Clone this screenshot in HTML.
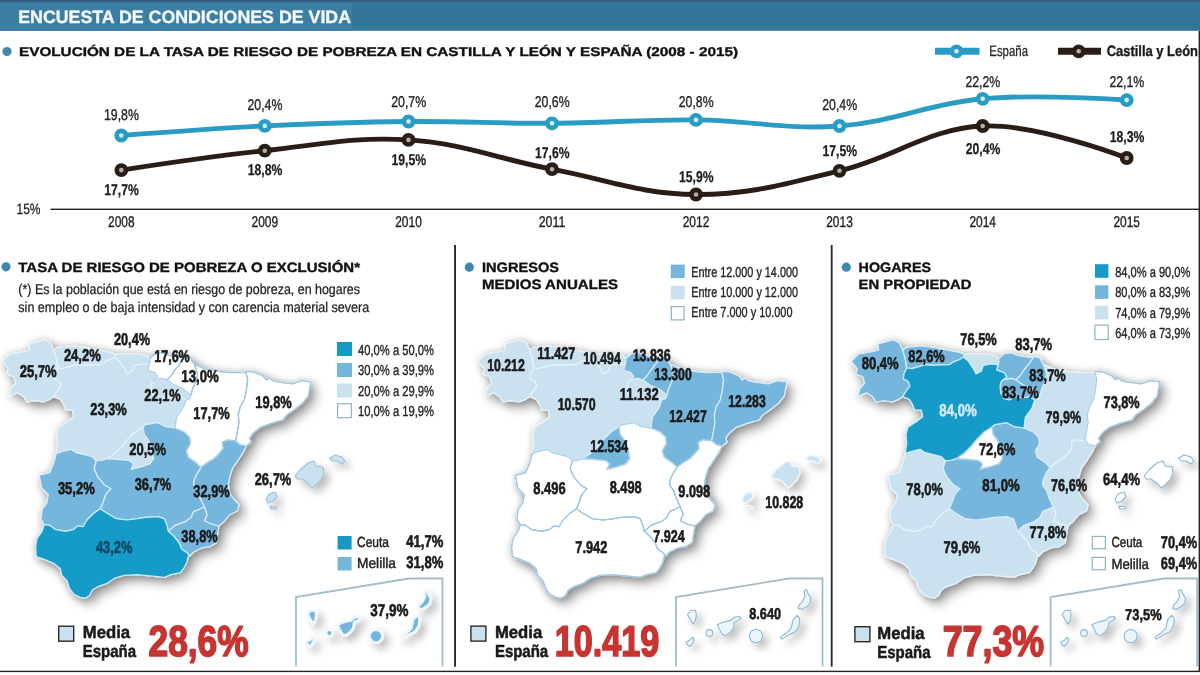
<!DOCTYPE html>
<html lang="es"><head><meta charset="utf-8"><title>Encuesta de condiciones de vida</title>
<style>
html,body{margin:0;padding:0;background:#fff;}
body{width:1200px;height:675px;overflow:hidden;}
svg{display:block;font-family:"Liberation Sans",sans-serif;}
text{text-rendering:geometricPrecision;}
svg{opacity:0.999;}
</style></head><body>
<svg width="1200" height="675" viewBox="0 0 1200 675">
<defs>
<filter id="sh" x="-10%" y="-10%" width="130%" height="130%">
<feGaussianBlur in="SourceAlpha" stdDeviation="5.5" result="b1"/>
<feOffset in="b1" dx="5.5" dy="6" result="o1"/>
<feComponentTransfer in="o1" result="s1"><feFuncA type="linear" slope="0.31"/></feComponentTransfer>
<feGaussianBlur in="SourceAlpha" stdDeviation="4" result="b2"/>
<feOffset in="b2" dx="0.5" dy="0.5" result="o2"/>
<feComponentTransfer in="o2" result="s2"><feFuncA type="linear" slope="0.3"/></feComponentTransfer>
<feMerge><feMergeNode in="s1"/><feMergeNode in="s2"/><feMergeNode in="SourceGraphic"/></feMerge>
</filter>
<filter id="shs" x="-60%" y="-60%" width="260%" height="260%">
<feGaussianBlur in="SourceAlpha" stdDeviation="4.5" result="b1"/>
<feOffset in="b1" dx="4.5" dy="5" result="o1"/>
<feComponentTransfer in="o1" result="s1"><feFuncA type="linear" slope="0.27"/></feComponentTransfer>
<feMerge><feMergeNode in="s1"/><feMergeNode in="SourceGraphic"/></feMerge>
</filter>
</defs>
<rect width="1200" height="675" fill="#fff"/>

<rect x="0" y="0" width="1200" height="30.8" fill="#34769a"/>
<rect x="0" y="3" width="352" height="27.8" fill="#3d7ea3"/>
<rect x="0" y="0" width="1200" height="1.6" fill="#355b78"/>
<text x="18.2" y="23.2" font-size="17.8" font-weight="bold" fill="#f4fbff" stroke="#f4fbff" stroke-width="0.35" stroke-linejoin="round" textLength="332.8" lengthAdjust="spacingAndGlyphs">ENCUESTA DE CONDICIONES DE VIDA</text>
<circle cx="7.0" cy="51.5" r="4.6" fill="#3f88ad"/>
<text x="19.0" y="56.0" font-size="12.6" font-weight="bold" fill="#111" stroke="#111" stroke-width="0.35" stroke-linejoin="round" textLength="719.0" lengthAdjust="spacingAndGlyphs">EVOLUCIÓN DE LA TASA DE RIESGO DE POBREZA EN CASTILLA Y LEÓN Y ESPAÑA (2008 - 2015)</text>
<rect x="50.5" y="208.6" width="1149.5" height="1.4" fill="#222"/>
<text x="16.5" y="214.0" font-size="15.0" font-weight="normal" fill="#222" stroke="#222" stroke-width="0.25" stroke-linejoin="round" textLength="24.0" lengthAdjust="spacingAndGlyphs">15%</text>
<path d="M121.3 170.1 C121.3 170.1 210.3 156.4 264.8 150.7 C319.4 145.0 353.9 136.4 408.5 139.9 C463.0 143.4 497.5 158.8 552.0 169.2 C606.7 179.6 641.3 194.2 696.0 194.5 C750.5 194.8 785.0 183.8 839.5 170.8 C893.9 157.8 928.3 128.4 982.7 126.0 C1037.4 123.6 1126.7 158.0 1126.7 158.0" fill="none" stroke="#2a1c17" stroke-width="4.9"/>
<path d="M121.3 135.5 C121.3 135.5 210.3 128.6 264.8 125.9 C319.4 123.2 353.9 122.0 408.5 121.5 C463.0 121.0 497.5 123.6 552.0 123.3 C606.7 123.0 641.3 119.4 696.0 119.9 C750.5 120.4 785.0 130.0 839.5 126.0 C893.9 122.0 928.3 103.7 982.7 98.8 C1037.4 93.9 1126.7 100.1 1126.7 100.1" fill="none" stroke="#2a9cc3" stroke-width="4.9"/>
<circle cx="121.3" cy="170.1" r="4.6" fill="#b8afaa" stroke="#2a1c17" stroke-width="4.6"/>
<circle cx="264.8" cy="150.7" r="4.6" fill="#b8afaa" stroke="#2a1c17" stroke-width="4.6"/>
<circle cx="408.5" cy="139.9" r="4.6" fill="#b8afaa" stroke="#2a1c17" stroke-width="4.6"/>
<circle cx="552.0" cy="169.2" r="4.6" fill="#b8afaa" stroke="#2a1c17" stroke-width="4.6"/>
<circle cx="696.0" cy="194.5" r="4.6" fill="#b8afaa" stroke="#2a1c17" stroke-width="4.6"/>
<circle cx="839.5" cy="170.8" r="4.6" fill="#b8afaa" stroke="#2a1c17" stroke-width="4.6"/>
<circle cx="982.7" cy="126.0" r="4.6" fill="#b8afaa" stroke="#2a1c17" stroke-width="4.6"/>
<circle cx="1126.7" cy="158.0" r="4.6" fill="#b8afaa" stroke="#2a1c17" stroke-width="4.6"/>
<circle cx="121.3" cy="135.5" r="4.6" fill="#d2f0fb" stroke="#2a9cc3" stroke-width="4.6"/>
<circle cx="264.8" cy="125.9" r="4.6" fill="#d2f0fb" stroke="#2a9cc3" stroke-width="4.6"/>
<circle cx="408.5" cy="121.5" r="4.6" fill="#d2f0fb" stroke="#2a9cc3" stroke-width="4.6"/>
<circle cx="552.0" cy="123.3" r="4.6" fill="#d2f0fb" stroke="#2a9cc3" stroke-width="4.6"/>
<circle cx="696.0" cy="119.9" r="4.6" fill="#d2f0fb" stroke="#2a9cc3" stroke-width="4.6"/>
<circle cx="839.5" cy="126.0" r="4.6" fill="#d2f0fb" stroke="#2a9cc3" stroke-width="4.6"/>
<circle cx="982.7" cy="98.8" r="4.6" fill="#d2f0fb" stroke="#2a9cc3" stroke-width="4.6"/>
<circle cx="1126.7" cy="100.1" r="4.6" fill="#d2f0fb" stroke="#2a9cc3" stroke-width="4.6"/>
<text x="108.0" y="226.8" font-size="15.4" font-weight="normal" fill="#222" stroke="#222" stroke-width="0.35" stroke-linejoin="round" textLength="26.6" lengthAdjust="spacingAndGlyphs">2008</text>
<text x="251.5" y="226.8" font-size="15.4" font-weight="normal" fill="#222" stroke="#222" stroke-width="0.35" stroke-linejoin="round" textLength="26.6" lengthAdjust="spacingAndGlyphs">2009</text>
<text x="395.2" y="226.8" font-size="15.4" font-weight="normal" fill="#222" stroke="#222" stroke-width="0.35" stroke-linejoin="round" textLength="26.6" lengthAdjust="spacingAndGlyphs">2010</text>
<text x="538.7" y="226.8" font-size="15.4" font-weight="normal" fill="#222" stroke="#222" stroke-width="0.35" stroke-linejoin="round" textLength="26.6" lengthAdjust="spacingAndGlyphs">2011</text>
<text x="682.7" y="226.8" font-size="15.4" font-weight="normal" fill="#222" stroke="#222" stroke-width="0.35" stroke-linejoin="round" textLength="26.6" lengthAdjust="spacingAndGlyphs">2012</text>
<text x="826.2" y="226.8" font-size="15.4" font-weight="normal" fill="#222" stroke="#222" stroke-width="0.35" stroke-linejoin="round" textLength="26.6" lengthAdjust="spacingAndGlyphs">2013</text>
<text x="969.4" y="226.8" font-size="15.4" font-weight="normal" fill="#222" stroke="#222" stroke-width="0.35" stroke-linejoin="round" textLength="26.6" lengthAdjust="spacingAndGlyphs">2014</text>
<text x="1113.4" y="226.8" font-size="15.4" font-weight="normal" fill="#222" stroke="#222" stroke-width="0.35" stroke-linejoin="round" textLength="26.6" lengthAdjust="spacingAndGlyphs">2015</text>
<text x="104.0" y="120.0" font-size="15.6" font-weight="normal" fill="#222" stroke="#222" stroke-width="0.35" stroke-linejoin="round" textLength="34.9" lengthAdjust="spacingAndGlyphs">19,8%</text>
<text x="247.5" y="110.3" font-size="15.6" font-weight="normal" fill="#222" stroke="#222" stroke-width="0.35" stroke-linejoin="round" textLength="34.9" lengthAdjust="spacingAndGlyphs">20,4%</text>
<text x="391.2" y="107.3" font-size="15.6" font-weight="normal" fill="#222" stroke="#222" stroke-width="0.35" stroke-linejoin="round" textLength="34.9" lengthAdjust="spacingAndGlyphs">20,7%</text>
<text x="534.7" y="107.3" font-size="15.6" font-weight="normal" fill="#222" stroke="#222" stroke-width="0.35" stroke-linejoin="round" textLength="34.9" lengthAdjust="spacingAndGlyphs">20,6%</text>
<text x="678.7" y="106.8" font-size="15.6" font-weight="normal" fill="#222" stroke="#222" stroke-width="0.35" stroke-linejoin="round" textLength="34.9" lengthAdjust="spacingAndGlyphs">20,8%</text>
<text x="822.2" y="109.5" font-size="15.6" font-weight="normal" fill="#222" stroke="#222" stroke-width="0.35" stroke-linejoin="round" textLength="34.9" lengthAdjust="spacingAndGlyphs">20,4%</text>
<text x="965.4" y="86.5" font-size="15.6" font-weight="normal" fill="#222" stroke="#222" stroke-width="0.35" stroke-linejoin="round" textLength="34.9" lengthAdjust="spacingAndGlyphs">22,2%</text>
<text x="1109.4" y="86.5" font-size="15.6" font-weight="normal" fill="#222" stroke="#222" stroke-width="0.35" stroke-linejoin="round" textLength="34.9" lengthAdjust="spacingAndGlyphs">22,1%</text>
<text x="104.3" y="194.7" font-size="15.6" font-weight="bold" fill="#1a1a1a" stroke="#1a1a1a" stroke-width="0.25" stroke-linejoin="round" textLength="34.6" lengthAdjust="spacingAndGlyphs">17,7%</text>
<text x="247.8" y="174.5" font-size="15.6" font-weight="bold" fill="#1a1a1a" stroke="#1a1a1a" stroke-width="0.25" stroke-linejoin="round" textLength="34.6" lengthAdjust="spacingAndGlyphs">18,8%</text>
<text x="391.5" y="165.2" font-size="15.6" font-weight="bold" fill="#1a1a1a" stroke="#1a1a1a" stroke-width="0.25" stroke-linejoin="round" textLength="34.6" lengthAdjust="spacingAndGlyphs">19,5%</text>
<text x="535.0" y="158.0" font-size="15.6" font-weight="bold" fill="#1a1a1a" stroke="#1a1a1a" stroke-width="0.25" stroke-linejoin="round" textLength="34.6" lengthAdjust="spacingAndGlyphs">17,6%</text>
<text x="679.0" y="182.0" font-size="15.6" font-weight="bold" fill="#1a1a1a" stroke="#1a1a1a" stroke-width="0.25" stroke-linejoin="round" textLength="34.6" lengthAdjust="spacingAndGlyphs">15,9%</text>
<text x="822.5" y="155.9" font-size="15.6" font-weight="bold" fill="#1a1a1a" stroke="#1a1a1a" stroke-width="0.25" stroke-linejoin="round" textLength="34.6" lengthAdjust="spacingAndGlyphs">17,5%</text>
<text x="965.7" y="154.0" font-size="15.6" font-weight="bold" fill="#1a1a1a" stroke="#1a1a1a" stroke-width="0.25" stroke-linejoin="round" textLength="34.6" lengthAdjust="spacingAndGlyphs">20,4%</text>
<text x="1109.7" y="142.0" font-size="15.6" font-weight="bold" fill="#1a1a1a" stroke="#1a1a1a" stroke-width="0.25" stroke-linejoin="round" textLength="34.6" lengthAdjust="spacingAndGlyphs">18,3%</text>
<path d="M935 51.3H979.5" stroke="#2a9cc3" stroke-width="7"/>
<circle cx="956.5" cy="51.3" r="4.6" fill="#d2f0fb" stroke="#2a9cc3" stroke-width="4.6"/>
<text x="989.3" y="56.0" font-size="15.0" font-weight="normal" fill="#222" stroke="#222" stroke-width="0.25" stroke-linejoin="round" textLength="38.7" lengthAdjust="spacingAndGlyphs">España</text>
<path d="M1058 51.3H1101" stroke="#2a1c17" stroke-width="7"/>
<circle cx="1078.7" cy="51.3" r="4.6" fill="#b8afaa" stroke="#2a1c17" stroke-width="4.6"/>
<text x="1106.7" y="56.0" font-size="15.0" font-weight="bold" fill="#1a1a1a" stroke="#1a1a1a" stroke-width="0.35" stroke-linejoin="round" textLength="91.3" lengthAdjust="spacingAndGlyphs">Castilla y León</text>
<rect x="454.1" y="245" width="1.9" height="421.7" fill="#262626"/>
<rect x="830.8" y="245" width="1.8" height="421.7" fill="#262626"/>
<rect x="0" y="670.7" width="1200" height="1.4" fill="#262626"/>
<rect x="1198.6" y="31" width="1.4" height="640" fill="#262626"/>
<g transform="translate(0,0)">
<g filter="url(#sh)" stroke-linejoin="round">
<path d="M149.7 358.7 L155.0 354.0 L161.7 352.7 L171.0 356.0 L180.3 357.3 L185.0 356.7 L180.3 363.3 L175.0 370.0 L171.0 376.0 L167.0 380.0 L162.3 378.3 L156.3 379.3 L152.3 381.3 L157.7 376.7 L155.0 372.7 L147.7 370.0 L149.0 364.9 L149.9 362.0 L149.7 358.7Z" fill="#ffffff" stroke="#a9cfe6" stroke-width="1.25"/>
<path d="M185.0 356.7 L191.0 358.0 L192.6 362.0 L194.3 364.4 L197.7 374.0 L196.3 380.7 L192.6 388.7 L191.0 395.3 L183.0 388.7 L173.7 384.7 L167.0 380.0 L171.0 376.0 L175.0 370.0 L180.3 363.3 L185.0 356.7Z" fill="#ffffff" stroke="#a9cfe6" stroke-width="1.25"/>
<path d="M194.3 364.4 L204.3 368.7 L217.7 371.3 L231.0 372.7 L245.0 372.4 L245.7 371.3 L247.7 380.0 L246.3 390.7 L244.3 400.0 L240.3 406.7 L238.3 414.7 L239.0 422.7 L237.7 430.0 L235.7 440.7 L227.0 440.0 L222.3 442.0 L223.0 448.7 L219.0 453.3 L213.7 458.7 L207.0 462.7 L201.0 467.3 L196.3 462.7 L188.3 457.3 L186.3 450.7 L190.3 444.0 L189.7 437.3 L184.3 432.0 L175.0 428.0 L176.3 417.3 L183.0 408.0 L185.7 400.0 L189.7 398.7 L191.0 395.3 L192.6 388.7 L196.3 380.7 L197.7 374.0 L194.3 364.4Z" fill="#ffffff" stroke="#a9cfe6" stroke-width="1.25"/>
<path d="M245.7 371.3 L253.7 372.0 L263.0 376.0 L266.3 380.0 L269.7 378.0 L272.3 380.7 L277.7 382.0 L292.3 384.0 L301.7 380.7 L311.0 382.0 L309.7 388.0 L308.3 396.0 L303.0 402.7 L295.0 409.3 L287.0 414.7 L283.0 420.0 L271.0 423.3 L260.3 427.3 L253.7 432.7 L249.7 438.0 L251.0 442.0 L246.3 446.0 L240.3 444.7 L235.7 440.7 L237.7 430.0 L239.0 422.7 L238.3 414.7 L240.3 406.7 L244.3 400.0 L246.3 390.7 L247.7 380.0 L245.7 371.3Z" fill="#ffffff" stroke="#a9cfe6" stroke-width="1.25"/>
<path d="M9.0 396.0 L11.0 388.7 L15.7 383.3 L13.7 376.7 L7.0 374.0 L8.3 368.7 L2.3 361.3 L9.7 354.0 L22.3 352.0 L29.7 350.0 L29.0 344.0 L36.3 342.0 L44.3 340.0 L50.3 342.7 L53.7 350.0 L56.3 358.7 L57.7 368.0 L55.0 374.0 L54.3 378.7 L59.0 381.3 L61.0 386.0 L57.0 391.3 L53.7 396.7 L49.7 399.3 L43.0 402.0 L35.0 400.7 L27.0 402.0 L23.7 396.7 L17.7 392.7 L9.0 396.0Z" fill="#cae1f0" stroke="#e7f3fa" stroke-width="1.25"/>
<path d="M53.7 350.0 L57.7 347.3 L71.0 346.0 L84.3 347.3 L97.7 350.0 L111.0 352.7 L115.7 354.3 L114.3 357.3 L109.7 360.0 L105.7 361.3 L100.3 364.7 L92.3 364.9 L84.3 365.3 L76.3 364.7 L69.7 366.7 L63.0 368.7 L57.7 368.0 L56.3 358.7 L53.7 350.0Z" fill="#cae1f0" stroke="#e7f3fa" stroke-width="1.25"/>
<path d="M115.7 354.3 L124.3 353.7 L137.7 354.0 L147.0 356.0 L149.7 358.7 L149.9 362.0 L149.0 364.9 L143.0 364.0 L134.3 365.3 L132.3 371.3 L127.0 374.0 L124.3 368.7 L119.0 360.7 L114.3 357.3 L115.7 354.3Z" fill="#cae1f0" stroke="#e7f3fa" stroke-width="1.25"/>
<path d="M152.3 381.3 L156.3 379.3 L162.3 378.3 L167.0 380.0 L173.7 384.7 L183.0 388.7 L191.0 395.3 L189.7 398.7 L185.7 400.0 L180.3 396.7 L173.7 398.0 L167.0 396.7 L160.3 400.0 L155.0 398.7 L151.7 392.7 L151.0 386.0 L152.3 381.3Z" fill="#cae1f0" stroke="#e7f3fa" stroke-width="1.25"/>
<path d="M143.0 426.7 L135.0 432.0 L128.3 438.7 L121.7 446.7 L115.0 453.3 L107.0 458.7 L117.7 459.3 L129.7 460.7 L133.7 464.0 L131.0 469.3 L141.7 466.7 L149.7 464.0 L153.7 458.7 L152.3 450.7 L148.3 440.0 L144.3 434.7 L143.0 426.7Z" fill="#cae1f0" stroke="#e7f3fa" stroke-width="1.25"/>
<path d="M57.7 368.0 L63.0 368.7 L69.7 366.7 L76.3 364.7 L84.3 365.3 L92.3 364.9 L100.3 364.7 L105.7 361.3 L109.7 360.0 L114.3 357.3 L119.0 360.7 L124.3 368.7 L127.0 374.0 L132.3 371.3 L134.3 365.3 L143.0 364.0 L149.0 364.9 L147.7 370.0 L155.0 372.7 L157.7 376.7 L152.3 381.3 L151.0 386.0 L151.7 392.7 L155.0 398.7 L160.3 400.0 L167.0 396.7 L173.7 398.0 L180.3 396.7 L185.7 400.0 L183.0 408.0 L176.3 417.3 L175.0 428.0 L165.7 426.7 L157.7 422.7 L145.7 424.7 L143.0 426.7 L135.0 432.0 L128.3 438.7 L121.7 446.7 L115.0 453.3 L107.0 458.7 L101.7 460.3 L96.3 460.7 L92.3 456.7 L84.3 454.7 L76.3 452.7 L71.0 449.3 L63.0 451.3 L56.3 453.3 L57.7 443.3 L57.0 434.0 L59.0 427.3 L67.0 422.0 L73.7 416.7 L72.3 410.0 L65.7 410.0 L63.7 404.7 L60.3 399.3 L53.7 396.7 L57.0 391.3 L61.0 386.0 L59.0 381.3 L54.3 378.7 L55.0 374.0 L57.7 368.0Z" fill="#cae1f0" stroke="#e7f3fa" stroke-width="1.25"/>
<path d="M246.3 446.0 L243.0 452.7 L237.7 460.7 L232.3 468.7 L229.7 476.7 L228.3 484.7 L229.7 492.7 L232.3 497.3 L239.0 504.7 L237.7 510.7 L229.7 514.7 L224.3 521.3 L219.0 526.0 L211.0 524.0 L204.3 520.7 L207.0 514.7 L204.3 506.7 L200.3 498.7 L197.7 490.7 L193.7 485.3 L193.7 481.3 L196.3 474.7 L201.0 467.3 L207.0 462.7 L213.7 458.7 L219.0 453.3 L223.0 448.7 L222.3 442.0 L227.0 440.0 L235.7 440.7 L240.3 444.7 L246.3 446.0Z" fill="#77b6dc" stroke="#d6edf9" stroke-width="1.25"/>
<path d="M219.0 526.0 L217.7 533.3 L216.3 542.7 L209.7 546.7 L201.7 548.0 L193.7 552.0 L189.7 556.0 L187.0 552.7 L181.7 549.3 L179.0 542.7 L173.7 536.0 L168.3 531.3 L175.0 525.3 L185.7 521.3 L191.0 517.3 L193.7 511.3 L199.0 509.3 L204.3 506.7 L207.0 514.7 L204.3 520.7 L211.0 524.0 L219.0 526.0Z" fill="#77b6dc" stroke="#d6edf9" stroke-width="1.25"/>
<path d="M44.3 524.7 L41.0 518.7 L42.3 509.3 L47.0 502.7 L48.3 494.7 L41.7 488.0 L40.3 480.0 L39.0 475.3 L49.7 472.7 L53.7 463.3 L56.3 453.3 L63.0 451.3 L71.0 449.3 L76.3 452.7 L84.3 454.7 L92.3 456.7 L96.3 460.7 L94.3 468.7 L97.7 476.7 L104.3 484.7 L111.0 488.7 L105.7 494.7 L103.0 502.7 L100.3 508.7 L93.7 513.3 L87.0 520.0 L83.0 526.7 L77.7 526.0 L73.7 529.3 L65.7 531.3 L55.0 529.3 L49.7 525.3 L44.3 524.7Z" fill="#77b6dc" stroke="#d6edf9" stroke-width="1.25"/>
<path d="M96.3 460.7 L101.7 460.3 L107.0 458.7 L117.7 459.3 L129.7 460.7 L133.7 464.0 L131.0 469.3 L141.7 466.7 L149.7 464.0 L153.7 458.7 L152.3 450.7 L148.3 440.0 L144.3 434.7 L143.0 426.7 L145.7 424.7 L157.7 422.7 L165.7 426.7 L175.0 428.0 L184.3 432.0 L189.7 437.3 L190.3 444.0 L186.3 450.7 L188.3 457.3 L196.3 462.7 L201.0 467.3 L196.3 474.7 L193.7 481.3 L193.7 485.3 L197.7 490.7 L200.3 498.7 L204.3 506.7 L199.0 509.3 L193.7 511.3 L191.0 517.3 L185.7 521.3 L175.0 525.3 L168.3 531.3 L167.0 525.3 L164.3 518.7 L157.7 516.7 L145.7 517.3 L137.7 518.7 L127.0 520.0 L116.3 518.7 L107.0 513.3 L100.3 508.7 L103.0 502.7 L105.7 494.7 L111.0 488.7 L104.3 484.7 L97.7 476.7 L94.3 468.7 L96.3 460.7Z" fill="#77b6dc" stroke="#d6edf9" stroke-width="1.25"/>
<path d="M188.3 556.0 L187.0 562.0 L184.3 567.3 L180.3 572.7 L171.0 574.7 L164.3 577.3 L157.7 576.7 L144.3 575.3 L137.7 574.7 L124.3 575.3 L115.0 578.0 L107.0 583.3 L97.7 586.7 L92.3 590.0 L89.7 595.3 L85.7 598.0 L80.3 597.3 L73.7 594.0 L69.7 588.7 L67.0 580.7 L61.7 575.3 L60.3 568.7 L53.7 563.3 L44.3 559.3 L36.3 556.7 L35.7 546.7 L37.0 538.7 L41.7 532.0 L44.3 524.7 L49.7 525.3 L55.0 529.3 L65.7 531.3 L73.7 529.3 L77.7 526.0 L83.0 526.7 L87.0 520.0 L93.7 513.3 L100.3 508.7 L107.0 513.3 L116.3 518.7 L127.0 520.0 L137.7 518.7 L145.7 517.3 L157.7 516.7 L164.3 518.7 L167.0 525.3 L168.3 531.3 L173.7 536.0 L179.0 542.7 L181.7 549.3 L187.0 552.7 L189.7 556.0Z" fill="#189ac7" stroke="#c4ecfa" stroke-width="1.25"/>
<path d="M149.7 358.7 L155.0 354.0 L161.7 352.7 L171.0 356.0 L180.3 357.3 L185.0 356.7 L180.3 363.3 L175.0 370.0 L171.0 376.0 L167.0 380.0 L162.3 378.3 L156.3 379.3 L152.3 381.3 L157.7 376.7 L155.0 372.7 L147.7 370.0 L149.0 364.9 L149.9 362.0 L149.7 358.7Z" fill="none" stroke="#9cc6e0" stroke-width="0.9"/>
<path d="M185.0 356.7 L191.0 358.0 L192.6 362.0 L194.3 364.4 L197.7 374.0 L196.3 380.7 L192.6 388.7 L191.0 395.3 L183.0 388.7 L173.7 384.7 L167.0 380.0 L171.0 376.0 L175.0 370.0 L180.3 363.3 L185.0 356.7Z" fill="none" stroke="#9cc6e0" stroke-width="0.9"/>
<path d="M194.3 364.4 L204.3 368.7 L217.7 371.3 L231.0 372.7 L245.0 372.4 L245.7 371.3 L247.7 380.0 L246.3 390.7 L244.3 400.0 L240.3 406.7 L238.3 414.7 L239.0 422.7 L237.7 430.0 L235.7 440.7 L227.0 440.0 L222.3 442.0 L223.0 448.7 L219.0 453.3 L213.7 458.7 L207.0 462.7 L201.0 467.3 L196.3 462.7 L188.3 457.3 L186.3 450.7 L190.3 444.0 L189.7 437.3 L184.3 432.0 L175.0 428.0 L176.3 417.3 L183.0 408.0 L185.7 400.0 L189.7 398.7 L191.0 395.3 L192.6 388.7 L196.3 380.7 L197.7 374.0 L194.3 364.4Z" fill="none" stroke="#9cc6e0" stroke-width="0.9"/>
<path d="M245.7 371.3 L253.7 372.0 L263.0 376.0 L266.3 380.0 L269.7 378.0 L272.3 380.7 L277.7 382.0 L292.3 384.0 L301.7 380.7 L311.0 382.0 L309.7 388.0 L308.3 396.0 L303.0 402.7 L295.0 409.3 L287.0 414.7 L283.0 420.0 L271.0 423.3 L260.3 427.3 L253.7 432.7 L249.7 438.0 L251.0 442.0 L246.3 446.0 L240.3 444.7 L235.7 440.7 L237.7 430.0 L239.0 422.7 L238.3 414.7 L240.3 406.7 L244.3 400.0 L246.3 390.7 L247.7 380.0 L245.7 371.3Z" fill="none" stroke="#9cc6e0" stroke-width="0.9"/>
</g>
<g filter="url(#shs)" stroke-linejoin="round">
<path d="M295.0 476.0 L300.0 470.0 L308.0 463.0 L314.0 461.0 L316.0 466.0 L323.0 467.0 L324.0 473.0 L321.0 480.0 L316.0 485.0 L312.0 488.0 L308.0 483.0 L302.0 479.0 L297.0 479.0Z" fill="#cae1f0" stroke="#9dc0d8" stroke-width="1.1"/>
<path d="M329.6 458.0 L335.0 455.0 L342.0 457.0 L345.0 461.0 L342.0 464.0 L337.0 461.0 L332.0 461.0Z" fill="#cae1f0" stroke="#9dc0d8" stroke-width="1.1"/>
<path d="M269.0 494.0 L275.0 492.0 L277.0 497.0 L273.0 501.0 L268.0 503.0 L266.0 499.0Z" fill="#cae1f0" stroke="#9dc0d8" stroke-width="1.1"/>
<path d="M270.0 506.0 L277.0 507.0 L276.0 509.0 L271.0 509.0Z" fill="#cae1f0" stroke="#9dc0d8" stroke-width="1.1"/>
</g>
</g>
<g transform="translate(0,0)">
<path d="M296 666.5V597L409 578.5H442.5V666.5" fill="none" stroke="#a3bdcc" stroke-width="1.8"/>
<g filter="url(#shs)" stroke-linejoin="round">
<path d="M307.6 614.4 L310.2 610.7 L315.4 610.2 L316.4 614.9 L315.4 620.6 L313.3 624.2 L310.7 620.1Z" fill="#77b6dc" stroke="#eef7fc" stroke-width="2.8"/>
<circle cx="329.4" cy="633" r="3.4" fill="#77b6dc" stroke="#eef7fc" stroke-width="2.8"/>
<path d="M306.1 641.9 L309.7 640.3 L312.8 637.2 L314.4 639.8 L312.3 643.9 L309.7 646.5 L307.1 644.5Z" fill="#77b6dc" stroke="#eef7fc" stroke-width="2.8"/>
<path d="M337.2 624.8 L342.9 622.2 L351.2 620.1 L354.8 617.0 L359.5 616.5 L361.0 618.5 L357.4 621.1 L354.3 622.2 L353.3 628.4 L350.1 632.5 L345.5 635.6 L342.4 634.6 L339.8 629.9Z" fill="#77b6dc" stroke="#eef7fc" stroke-width="2.8"/>
<circle cx="376" cy="636.1" r="6.6" fill="#77b6dc" stroke="#eef7fc" stroke-width="2.8"/>
<path d="M417.3 615.3 L419.8 618.7 L419.0 625.5 L415.6 631.5 L408.8 634.9 L401.9 639.1 L400.2 637.4 L406.2 633.2 L411.3 628.1 L413.0 619.6Z" fill="#77b6dc" stroke="#eef7fc" stroke-width="2.8"/>
<path d="M424.1 590.6 L426.6 589.8 L428.3 594.0 L430.9 598.3 L430.0 603.4 L426.6 606.8 L421.5 609.4 L418.1 608.5 L419.0 605.1 L422.4 601.7 L424.9 596.6Z" fill="#77b6dc" stroke="#eef7fc" stroke-width="2.8"/>
</g>
</g>
<g transform="translate(476,0)">
<g filter="url(#sh)" stroke-linejoin="round">
<path d="M246.3 446.0 L243.0 452.7 L237.7 460.7 L232.3 468.7 L229.7 476.7 L228.3 484.7 L229.7 492.7 L232.3 497.3 L239.0 504.7 L237.7 510.7 L229.7 514.7 L224.3 521.3 L219.0 526.0 L211.0 524.0 L204.3 520.7 L207.0 514.7 L204.3 506.7 L200.3 498.7 L197.7 490.7 L193.7 485.3 L193.7 481.3 L196.3 474.7 L201.0 467.3 L207.0 462.7 L213.7 458.7 L219.0 453.3 L223.0 448.7 L222.3 442.0 L227.0 440.0 L235.7 440.7 L240.3 444.7 L246.3 446.0Z" fill="#ffffff" stroke="#a9cfe6" stroke-width="1.25"/>
<path d="M219.0 526.0 L217.7 533.3 L216.3 542.7 L209.7 546.7 L201.7 548.0 L193.7 552.0 L189.7 556.0 L187.0 552.7 L181.7 549.3 L179.0 542.7 L173.7 536.0 L168.3 531.3 L175.0 525.3 L185.7 521.3 L191.0 517.3 L193.7 511.3 L199.0 509.3 L204.3 506.7 L207.0 514.7 L204.3 520.7 L211.0 524.0 L219.0 526.0Z" fill="#ffffff" stroke="#a9cfe6" stroke-width="1.25"/>
<path d="M188.3 556.0 L187.0 562.0 L184.3 567.3 L180.3 572.7 L171.0 574.7 L164.3 577.3 L157.7 576.7 L144.3 575.3 L137.7 574.7 L124.3 575.3 L115.0 578.0 L107.0 583.3 L97.7 586.7 L92.3 590.0 L89.7 595.3 L85.7 598.0 L80.3 597.3 L73.7 594.0 L69.7 588.7 L67.0 580.7 L61.7 575.3 L60.3 568.7 L53.7 563.3 L44.3 559.3 L36.3 556.7 L35.7 546.7 L37.0 538.7 L41.7 532.0 L44.3 524.7 L49.7 525.3 L55.0 529.3 L65.7 531.3 L73.7 529.3 L77.7 526.0 L83.0 526.7 L87.0 520.0 L93.7 513.3 L100.3 508.7 L107.0 513.3 L116.3 518.7 L127.0 520.0 L137.7 518.7 L145.7 517.3 L157.7 516.7 L164.3 518.7 L167.0 525.3 L168.3 531.3 L173.7 536.0 L179.0 542.7 L181.7 549.3 L187.0 552.7 L189.7 556.0Z" fill="#ffffff" stroke="#a9cfe6" stroke-width="1.25"/>
<path d="M44.3 524.7 L41.0 518.7 L42.3 509.3 L47.0 502.7 L48.3 494.7 L41.7 488.0 L40.3 480.0 L39.0 475.3 L49.7 472.7 L53.7 463.3 L56.3 453.3 L63.0 451.3 L71.0 449.3 L76.3 452.7 L84.3 454.7 L92.3 456.7 L96.3 460.7 L94.3 468.7 L97.7 476.7 L104.3 484.7 L111.0 488.7 L105.7 494.7 L103.0 502.7 L100.3 508.7 L93.7 513.3 L87.0 520.0 L83.0 526.7 L77.7 526.0 L73.7 529.3 L65.7 531.3 L55.0 529.3 L49.7 525.3 L44.3 524.7Z" fill="#ffffff" stroke="#a9cfe6" stroke-width="1.25"/>
<path d="M96.3 460.7 L101.7 460.3 L107.0 458.7 L117.7 459.3 L129.7 460.7 L133.7 464.0 L131.0 469.3 L141.7 466.7 L149.7 464.0 L153.7 458.7 L152.3 450.7 L148.3 440.0 L144.3 434.7 L143.0 426.7 L145.7 424.7 L157.7 422.7 L165.7 426.7 L175.0 428.0 L184.3 432.0 L189.7 437.3 L190.3 444.0 L186.3 450.7 L188.3 457.3 L196.3 462.7 L201.0 467.3 L196.3 474.7 L193.7 481.3 L193.7 485.3 L197.7 490.7 L200.3 498.7 L204.3 506.7 L199.0 509.3 L193.7 511.3 L191.0 517.3 L185.7 521.3 L175.0 525.3 L168.3 531.3 L167.0 525.3 L164.3 518.7 L157.7 516.7 L145.7 517.3 L137.7 518.7 L127.0 520.0 L116.3 518.7 L107.0 513.3 L100.3 508.7 L103.0 502.7 L105.7 494.7 L111.0 488.7 L104.3 484.7 L97.7 476.7 L94.3 468.7 L96.3 460.7Z" fill="#ffffff" stroke="#a9cfe6" stroke-width="1.25"/>
<path d="M9.0 396.0 L11.0 388.7 L15.7 383.3 L13.7 376.7 L7.0 374.0 L8.3 368.7 L2.3 361.3 L9.7 354.0 L22.3 352.0 L29.7 350.0 L29.0 344.0 L36.3 342.0 L44.3 340.0 L50.3 342.7 L53.7 350.0 L56.3 358.7 L57.7 368.0 L55.0 374.0 L54.3 378.7 L59.0 381.3 L61.0 386.0 L57.0 391.3 L53.7 396.7 L49.7 399.3 L43.0 402.0 L35.0 400.7 L27.0 402.0 L23.7 396.7 L17.7 392.7 L9.0 396.0Z" fill="#cae1f0" stroke="#e7f3fa" stroke-width="1.25"/>
<path d="M53.7 350.0 L57.7 347.3 L71.0 346.0 L84.3 347.3 L97.7 350.0 L111.0 352.7 L115.7 354.3 L114.3 357.3 L109.7 360.0 L105.7 361.3 L100.3 364.7 L92.3 364.9 L84.3 365.3 L76.3 364.7 L69.7 366.7 L63.0 368.7 L57.7 368.0 L56.3 358.7 L53.7 350.0Z" fill="#cae1f0" stroke="#e7f3fa" stroke-width="1.25"/>
<path d="M115.7 354.3 L124.3 353.7 L137.7 354.0 L147.0 356.0 L149.7 358.7 L149.9 362.0 L149.0 364.9 L143.0 364.0 L134.3 365.3 L132.3 371.3 L127.0 374.0 L124.3 368.7 L119.0 360.7 L114.3 357.3 L115.7 354.3Z" fill="#cae1f0" stroke="#e7f3fa" stroke-width="1.25"/>
<path d="M152.3 381.3 L156.3 379.3 L162.3 378.3 L167.0 380.0 L173.7 384.7 L183.0 388.7 L191.0 395.3 L189.7 398.7 L185.7 400.0 L180.3 396.7 L173.7 398.0 L167.0 396.7 L160.3 400.0 L155.0 398.7 L151.7 392.7 L151.0 386.0 L152.3 381.3Z" fill="#cae1f0" stroke="#e7f3fa" stroke-width="1.25"/>
<path d="M57.7 368.0 L63.0 368.7 L69.7 366.7 L76.3 364.7 L84.3 365.3 L92.3 364.9 L100.3 364.7 L105.7 361.3 L109.7 360.0 L114.3 357.3 L119.0 360.7 L124.3 368.7 L127.0 374.0 L132.3 371.3 L134.3 365.3 L143.0 364.0 L149.0 364.9 L147.7 370.0 L155.0 372.7 L157.7 376.7 L152.3 381.3 L151.0 386.0 L151.7 392.7 L155.0 398.7 L160.3 400.0 L167.0 396.7 L173.7 398.0 L180.3 396.7 L185.7 400.0 L183.0 408.0 L176.3 417.3 L175.0 428.0 L165.7 426.7 L157.7 422.7 L145.7 424.7 L143.0 426.7 L135.0 432.0 L128.3 438.7 L121.7 446.7 L115.0 453.3 L107.0 458.7 L101.7 460.3 L96.3 460.7 L92.3 456.7 L84.3 454.7 L76.3 452.7 L71.0 449.3 L63.0 451.3 L56.3 453.3 L57.7 443.3 L57.0 434.0 L59.0 427.3 L67.0 422.0 L73.7 416.7 L72.3 410.0 L65.7 410.0 L63.7 404.7 L60.3 399.3 L53.7 396.7 L57.0 391.3 L61.0 386.0 L59.0 381.3 L54.3 378.7 L55.0 374.0 L57.7 368.0Z" fill="#cae1f0" stroke="#e7f3fa" stroke-width="1.25"/>
<path d="M149.7 358.7 L155.0 354.0 L161.7 352.7 L171.0 356.0 L180.3 357.3 L185.0 356.7 L180.3 363.3 L175.0 370.0 L171.0 376.0 L167.0 380.0 L162.3 378.3 L156.3 379.3 L152.3 381.3 L157.7 376.7 L155.0 372.7 L147.7 370.0 L149.0 364.9 L149.9 362.0 L149.7 358.7Z" fill="#77b6dc" stroke="#d6edf9" stroke-width="1.25"/>
<path d="M185.0 356.7 L191.0 358.0 L192.6 362.0 L194.3 364.4 L197.7 374.0 L196.3 380.7 L192.6 388.7 L191.0 395.3 L183.0 388.7 L173.7 384.7 L167.0 380.0 L171.0 376.0 L175.0 370.0 L180.3 363.3 L185.0 356.7Z" fill="#77b6dc" stroke="#d6edf9" stroke-width="1.25"/>
<path d="M194.3 364.4 L204.3 368.7 L217.7 371.3 L231.0 372.7 L245.0 372.4 L245.7 371.3 L247.7 380.0 L246.3 390.7 L244.3 400.0 L240.3 406.7 L238.3 414.7 L239.0 422.7 L237.7 430.0 L235.7 440.7 L227.0 440.0 L222.3 442.0 L223.0 448.7 L219.0 453.3 L213.7 458.7 L207.0 462.7 L201.0 467.3 L196.3 462.7 L188.3 457.3 L186.3 450.7 L190.3 444.0 L189.7 437.3 L184.3 432.0 L175.0 428.0 L176.3 417.3 L183.0 408.0 L185.7 400.0 L189.7 398.7 L191.0 395.3 L192.6 388.7 L196.3 380.7 L197.7 374.0 L194.3 364.4Z" fill="#77b6dc" stroke="#d6edf9" stroke-width="1.25"/>
<path d="M245.7 371.3 L253.7 372.0 L263.0 376.0 L266.3 380.0 L269.7 378.0 L272.3 380.7 L277.7 382.0 L292.3 384.0 L301.7 380.7 L311.0 382.0 L309.7 388.0 L308.3 396.0 L303.0 402.7 L295.0 409.3 L287.0 414.7 L283.0 420.0 L271.0 423.3 L260.3 427.3 L253.7 432.7 L249.7 438.0 L251.0 442.0 L246.3 446.0 L240.3 444.7 L235.7 440.7 L237.7 430.0 L239.0 422.7 L238.3 414.7 L240.3 406.7 L244.3 400.0 L246.3 390.7 L247.7 380.0 L245.7 371.3Z" fill="#77b6dc" stroke="#d6edf9" stroke-width="1.25"/>
<path d="M143.0 426.7 L135.0 432.0 L128.3 438.7 L121.7 446.7 L115.0 453.3 L107.0 458.7 L117.7 459.3 L129.7 460.7 L133.7 464.0 L131.0 469.3 L141.7 466.7 L149.7 464.0 L153.7 458.7 L152.3 450.7 L148.3 440.0 L144.3 434.7 L143.0 426.7Z" fill="#77b6dc" stroke="#d6edf9" stroke-width="1.25"/>
<path d="M246.3 446.0 L243.0 452.7 L237.7 460.7 L232.3 468.7 L229.7 476.7 L228.3 484.7 L229.7 492.7 L232.3 497.3 L239.0 504.7 L237.7 510.7 L229.7 514.7 L224.3 521.3 L219.0 526.0 L211.0 524.0 L204.3 520.7 L207.0 514.7 L204.3 506.7 L200.3 498.7 L197.7 490.7 L193.7 485.3 L193.7 481.3 L196.3 474.7 L201.0 467.3 L207.0 462.7 L213.7 458.7 L219.0 453.3 L223.0 448.7 L222.3 442.0 L227.0 440.0 L235.7 440.7 L240.3 444.7 L246.3 446.0Z" fill="none" stroke="#9cc6e0" stroke-width="0.9"/>
<path d="M219.0 526.0 L217.7 533.3 L216.3 542.7 L209.7 546.7 L201.7 548.0 L193.7 552.0 L189.7 556.0 L187.0 552.7 L181.7 549.3 L179.0 542.7 L173.7 536.0 L168.3 531.3 L175.0 525.3 L185.7 521.3 L191.0 517.3 L193.7 511.3 L199.0 509.3 L204.3 506.7 L207.0 514.7 L204.3 520.7 L211.0 524.0 L219.0 526.0Z" fill="none" stroke="#9cc6e0" stroke-width="0.9"/>
<path d="M188.3 556.0 L187.0 562.0 L184.3 567.3 L180.3 572.7 L171.0 574.7 L164.3 577.3 L157.7 576.7 L144.3 575.3 L137.7 574.7 L124.3 575.3 L115.0 578.0 L107.0 583.3 L97.7 586.7 L92.3 590.0 L89.7 595.3 L85.7 598.0 L80.3 597.3 L73.7 594.0 L69.7 588.7 L67.0 580.7 L61.7 575.3 L60.3 568.7 L53.7 563.3 L44.3 559.3 L36.3 556.7 L35.7 546.7 L37.0 538.7 L41.7 532.0 L44.3 524.7 L49.7 525.3 L55.0 529.3 L65.7 531.3 L73.7 529.3 L77.7 526.0 L83.0 526.7 L87.0 520.0 L93.7 513.3 L100.3 508.7 L107.0 513.3 L116.3 518.7 L127.0 520.0 L137.7 518.7 L145.7 517.3 L157.7 516.7 L164.3 518.7 L167.0 525.3 L168.3 531.3 L173.7 536.0 L179.0 542.7 L181.7 549.3 L187.0 552.7 L189.7 556.0Z" fill="none" stroke="#9cc6e0" stroke-width="0.9"/>
<path d="M44.3 524.7 L41.0 518.7 L42.3 509.3 L47.0 502.7 L48.3 494.7 L41.7 488.0 L40.3 480.0 L39.0 475.3 L49.7 472.7 L53.7 463.3 L56.3 453.3 L63.0 451.3 L71.0 449.3 L76.3 452.7 L84.3 454.7 L92.3 456.7 L96.3 460.7 L94.3 468.7 L97.7 476.7 L104.3 484.7 L111.0 488.7 L105.7 494.7 L103.0 502.7 L100.3 508.7 L93.7 513.3 L87.0 520.0 L83.0 526.7 L77.7 526.0 L73.7 529.3 L65.7 531.3 L55.0 529.3 L49.7 525.3 L44.3 524.7Z" fill="none" stroke="#9cc6e0" stroke-width="0.9"/>
<path d="M96.3 460.7 L101.7 460.3 L107.0 458.7 L117.7 459.3 L129.7 460.7 L133.7 464.0 L131.0 469.3 L141.7 466.7 L149.7 464.0 L153.7 458.7 L152.3 450.7 L148.3 440.0 L144.3 434.7 L143.0 426.7 L145.7 424.7 L157.7 422.7 L165.7 426.7 L175.0 428.0 L184.3 432.0 L189.7 437.3 L190.3 444.0 L186.3 450.7 L188.3 457.3 L196.3 462.7 L201.0 467.3 L196.3 474.7 L193.7 481.3 L193.7 485.3 L197.7 490.7 L200.3 498.7 L204.3 506.7 L199.0 509.3 L193.7 511.3 L191.0 517.3 L185.7 521.3 L175.0 525.3 L168.3 531.3 L167.0 525.3 L164.3 518.7 L157.7 516.7 L145.7 517.3 L137.7 518.7 L127.0 520.0 L116.3 518.7 L107.0 513.3 L100.3 508.7 L103.0 502.7 L105.7 494.7 L111.0 488.7 L104.3 484.7 L97.7 476.7 L94.3 468.7 L96.3 460.7Z" fill="none" stroke="#9cc6e0" stroke-width="0.9"/>
</g>
<g filter="url(#shs)" stroke-linejoin="round">
<path d="M295.0 476.0 L300.0 470.0 L308.0 463.0 L314.0 461.0 L316.0 466.0 L323.0 467.0 L324.0 473.0 L321.0 480.0 L316.0 485.0 L312.0 488.0 L308.0 483.0 L302.0 479.0 L297.0 479.0Z" fill="#cae1f0" stroke="#eef6fb" stroke-width="1.4"/>
<path d="M329.6 458.0 L335.0 455.0 L342.0 457.0 L345.0 461.0 L342.0 464.0 L337.0 461.0 L332.0 461.0Z" fill="#cae1f0" stroke="#eef6fb" stroke-width="1.4"/>
<path d="M269.0 494.0 L275.0 492.0 L277.0 497.0 L273.0 501.0 L268.0 503.0 L266.0 499.0Z" fill="#cae1f0" stroke="#eef6fb" stroke-width="1.4"/>
<path d="M270.0 506.0 L277.0 507.0 L276.0 509.0 L271.0 509.0Z" fill="#cae1f0" stroke="#eef6fb" stroke-width="1.4"/>
</g>
</g>
<g transform="translate(380,0)">
<path d="M296 666.5V597L409 578.5H442.5V666.5" fill="none" stroke="#a3bdcc" stroke-width="1.8"/>
<g filter="url(#shs)" stroke-linejoin="round">
<path d="M307.6 614.4 L310.2 610.7 L315.4 610.2 L316.4 614.9 L315.4 620.6 L313.3 624.2 L310.7 620.1Z" fill="#eaf5fb" stroke="#8db8d2" stroke-width="1.1"/>
<circle cx="329.4" cy="633" r="3.4" fill="#eaf5fb" stroke="#8db8d2" stroke-width="1.1"/>
<path d="M306.1 641.9 L309.7 640.3 L312.8 637.2 L314.4 639.8 L312.3 643.9 L309.7 646.5 L307.1 644.5Z" fill="#eaf5fb" stroke="#8db8d2" stroke-width="1.1"/>
<path d="M337.2 624.8 L342.9 622.2 L351.2 620.1 L354.8 617.0 L359.5 616.5 L361.0 618.5 L357.4 621.1 L354.3 622.2 L353.3 628.4 L350.1 632.5 L345.5 635.6 L342.4 634.6 L339.8 629.9Z" fill="#eaf5fb" stroke="#8db8d2" stroke-width="1.1"/>
<circle cx="376" cy="636.1" r="6.6" fill="#eaf5fb" stroke="#8db8d2" stroke-width="1.1"/>
<path d="M417.3 615.3 L419.8 618.7 L419.0 625.5 L415.6 631.5 L408.8 634.9 L401.9 639.1 L400.2 637.4 L406.2 633.2 L411.3 628.1 L413.0 619.6Z" fill="#eaf5fb" stroke="#8db8d2" stroke-width="1.1"/>
<path d="M424.1 590.6 L426.6 589.8 L428.3 594.0 L430.9 598.3 L430.0 603.4 L426.6 606.8 L421.5 609.4 L418.1 608.5 L419.0 605.1 L422.4 601.7 L424.9 596.6Z" fill="#eaf5fb" stroke="#8db8d2" stroke-width="1.1"/>
</g>
</g>
<g transform="translate(849,0)">
<g filter="url(#sh)" stroke-linejoin="round">
<path d="M245.7 371.3 L253.7 372.0 L263.0 376.0 L266.3 380.0 L269.7 378.0 L272.3 380.7 L277.7 382.0 L292.3 384.0 L301.7 380.7 L311.0 382.0 L309.7 388.0 L308.3 396.0 L303.0 402.7 L295.0 409.3 L287.0 414.7 L283.0 420.0 L271.0 423.3 L260.3 427.3 L253.7 432.7 L249.7 438.0 L251.0 442.0 L246.3 446.0 L240.3 444.7 L235.7 440.7 L237.7 430.0 L239.0 422.7 L238.3 414.7 L240.3 406.7 L244.3 400.0 L246.3 390.7 L247.7 380.0 L245.7 371.3Z" fill="#ffffff" stroke="#a9cfe6" stroke-width="1.25"/>
<path d="M143.0 426.7 L135.0 432.0 L128.3 438.7 L121.7 446.7 L115.0 453.3 L107.0 458.7 L117.7 459.3 L129.7 460.7 L133.7 464.0 L131.0 469.3 L141.7 466.7 L149.7 464.0 L153.7 458.7 L152.3 450.7 L148.3 440.0 L144.3 434.7 L143.0 426.7Z" fill="#ffffff" stroke="#a9cfe6" stroke-width="1.25"/>
<path d="M115.7 354.3 L124.3 353.7 L137.7 354.0 L147.0 356.0 L149.7 358.7 L149.9 362.0 L149.0 364.9 L143.0 364.0 L134.3 365.3 L132.3 371.3 L127.0 374.0 L124.3 368.7 L119.0 360.7 L114.3 357.3 L115.7 354.3Z" fill="#cae1f0" stroke="#e7f3fa" stroke-width="1.25"/>
<path d="M194.3 364.4 L204.3 368.7 L217.7 371.3 L231.0 372.7 L245.0 372.4 L245.7 371.3 L247.7 380.0 L246.3 390.7 L244.3 400.0 L240.3 406.7 L238.3 414.7 L239.0 422.7 L237.7 430.0 L235.7 440.7 L227.0 440.0 L222.3 442.0 L223.0 448.7 L219.0 453.3 L213.7 458.7 L207.0 462.7 L201.0 467.3 L196.3 462.7 L188.3 457.3 L186.3 450.7 L190.3 444.0 L189.7 437.3 L184.3 432.0 L175.0 428.0 L176.3 417.3 L183.0 408.0 L185.7 400.0 L189.7 398.7 L191.0 395.3 L192.6 388.7 L196.3 380.7 L197.7 374.0 L194.3 364.4Z" fill="#cae1f0" stroke="#e7f3fa" stroke-width="1.25"/>
<path d="M246.3 446.0 L243.0 452.7 L237.7 460.7 L232.3 468.7 L229.7 476.7 L228.3 484.7 L229.7 492.7 L232.3 497.3 L239.0 504.7 L237.7 510.7 L229.7 514.7 L224.3 521.3 L219.0 526.0 L211.0 524.0 L204.3 520.7 L207.0 514.7 L204.3 506.7 L200.3 498.7 L197.7 490.7 L193.7 485.3 L193.7 481.3 L196.3 474.7 L201.0 467.3 L207.0 462.7 L213.7 458.7 L219.0 453.3 L223.0 448.7 L222.3 442.0 L227.0 440.0 L235.7 440.7 L240.3 444.7 L246.3 446.0Z" fill="#cae1f0" stroke="#e7f3fa" stroke-width="1.25"/>
<path d="M219.0 526.0 L217.7 533.3 L216.3 542.7 L209.7 546.7 L201.7 548.0 L193.7 552.0 L189.7 556.0 L187.0 552.7 L181.7 549.3 L179.0 542.7 L173.7 536.0 L168.3 531.3 L175.0 525.3 L185.7 521.3 L191.0 517.3 L193.7 511.3 L199.0 509.3 L204.3 506.7 L207.0 514.7 L204.3 520.7 L211.0 524.0 L219.0 526.0Z" fill="#cae1f0" stroke="#e7f3fa" stroke-width="1.25"/>
<path d="M188.3 556.0 L187.0 562.0 L184.3 567.3 L180.3 572.7 L171.0 574.7 L164.3 577.3 L157.7 576.7 L144.3 575.3 L137.7 574.7 L124.3 575.3 L115.0 578.0 L107.0 583.3 L97.7 586.7 L92.3 590.0 L89.7 595.3 L85.7 598.0 L80.3 597.3 L73.7 594.0 L69.7 588.7 L67.0 580.7 L61.7 575.3 L60.3 568.7 L53.7 563.3 L44.3 559.3 L36.3 556.7 L35.7 546.7 L37.0 538.7 L41.7 532.0 L44.3 524.7 L49.7 525.3 L55.0 529.3 L65.7 531.3 L73.7 529.3 L77.7 526.0 L83.0 526.7 L87.0 520.0 L93.7 513.3 L100.3 508.7 L107.0 513.3 L116.3 518.7 L127.0 520.0 L137.7 518.7 L145.7 517.3 L157.7 516.7 L164.3 518.7 L167.0 525.3 L168.3 531.3 L173.7 536.0 L179.0 542.7 L181.7 549.3 L187.0 552.7 L189.7 556.0Z" fill="#cae1f0" stroke="#e7f3fa" stroke-width="1.25"/>
<path d="M44.3 524.7 L41.0 518.7 L42.3 509.3 L47.0 502.7 L48.3 494.7 L41.7 488.0 L40.3 480.0 L39.0 475.3 L49.7 472.7 L53.7 463.3 L56.3 453.3 L63.0 451.3 L71.0 449.3 L76.3 452.7 L84.3 454.7 L92.3 456.7 L96.3 460.7 L94.3 468.7 L97.7 476.7 L104.3 484.7 L111.0 488.7 L105.7 494.7 L103.0 502.7 L100.3 508.7 L93.7 513.3 L87.0 520.0 L83.0 526.7 L77.7 526.0 L73.7 529.3 L65.7 531.3 L55.0 529.3 L49.7 525.3 L44.3 524.7Z" fill="#cae1f0" stroke="#e7f3fa" stroke-width="1.25"/>
<path d="M9.0 396.0 L11.0 388.7 L15.7 383.3 L13.7 376.7 L7.0 374.0 L8.3 368.7 L2.3 361.3 L9.7 354.0 L22.3 352.0 L29.7 350.0 L29.0 344.0 L36.3 342.0 L44.3 340.0 L50.3 342.7 L53.7 350.0 L56.3 358.7 L57.7 368.0 L55.0 374.0 L54.3 378.7 L59.0 381.3 L61.0 386.0 L57.0 391.3 L53.7 396.7 L49.7 399.3 L43.0 402.0 L35.0 400.7 L27.0 402.0 L23.7 396.7 L17.7 392.7 L9.0 396.0Z" fill="#77b6dc" stroke="#d6edf9" stroke-width="1.25"/>
<path d="M53.7 350.0 L57.7 347.3 L71.0 346.0 L84.3 347.3 L97.7 350.0 L111.0 352.7 L115.7 354.3 L114.3 357.3 L109.7 360.0 L105.7 361.3 L100.3 364.7 L92.3 364.9 L84.3 365.3 L76.3 364.7 L69.7 366.7 L63.0 368.7 L57.7 368.0 L56.3 358.7 L53.7 350.0Z" fill="#77b6dc" stroke="#d6edf9" stroke-width="1.25"/>
<path d="M149.7 358.7 L155.0 354.0 L161.7 352.7 L171.0 356.0 L180.3 357.3 L185.0 356.7 L180.3 363.3 L175.0 370.0 L171.0 376.0 L167.0 380.0 L162.3 378.3 L156.3 379.3 L152.3 381.3 L157.7 376.7 L155.0 372.7 L147.7 370.0 L149.0 364.9 L149.9 362.0 L149.7 358.7Z" fill="#77b6dc" stroke="#d6edf9" stroke-width="1.25"/>
<path d="M185.0 356.7 L191.0 358.0 L192.6 362.0 L194.3 364.4 L197.7 374.0 L196.3 380.7 L192.6 388.7 L191.0 395.3 L183.0 388.7 L173.7 384.7 L167.0 380.0 L171.0 376.0 L175.0 370.0 L180.3 363.3 L185.0 356.7Z" fill="#77b6dc" stroke="#d6edf9" stroke-width="1.25"/>
<path d="M152.3 381.3 L156.3 379.3 L162.3 378.3 L167.0 380.0 L173.7 384.7 L183.0 388.7 L191.0 395.3 L189.7 398.7 L185.7 400.0 L180.3 396.7 L173.7 398.0 L167.0 396.7 L160.3 400.0 L155.0 398.7 L151.7 392.7 L151.0 386.0 L152.3 381.3Z" fill="#77b6dc" stroke="#d6edf9" stroke-width="1.25"/>
<path d="M96.3 460.7 L101.7 460.3 L107.0 458.7 L117.7 459.3 L129.7 460.7 L133.7 464.0 L131.0 469.3 L141.7 466.7 L149.7 464.0 L153.7 458.7 L152.3 450.7 L148.3 440.0 L144.3 434.7 L143.0 426.7 L145.7 424.7 L157.7 422.7 L165.7 426.7 L175.0 428.0 L184.3 432.0 L189.7 437.3 L190.3 444.0 L186.3 450.7 L188.3 457.3 L196.3 462.7 L201.0 467.3 L196.3 474.7 L193.7 481.3 L193.7 485.3 L197.7 490.7 L200.3 498.7 L204.3 506.7 L199.0 509.3 L193.7 511.3 L191.0 517.3 L185.7 521.3 L175.0 525.3 L168.3 531.3 L167.0 525.3 L164.3 518.7 L157.7 516.7 L145.7 517.3 L137.7 518.7 L127.0 520.0 L116.3 518.7 L107.0 513.3 L100.3 508.7 L103.0 502.7 L105.7 494.7 L111.0 488.7 L104.3 484.7 L97.7 476.7 L94.3 468.7 L96.3 460.7Z" fill="#77b6dc" stroke="#d6edf9" stroke-width="1.25"/>
<path d="M57.7 368.0 L63.0 368.7 L69.7 366.7 L76.3 364.7 L84.3 365.3 L92.3 364.9 L100.3 364.7 L105.7 361.3 L109.7 360.0 L114.3 357.3 L119.0 360.7 L124.3 368.7 L127.0 374.0 L132.3 371.3 L134.3 365.3 L143.0 364.0 L149.0 364.9 L147.7 370.0 L155.0 372.7 L157.7 376.7 L152.3 381.3 L151.0 386.0 L151.7 392.7 L155.0 398.7 L160.3 400.0 L167.0 396.7 L173.7 398.0 L180.3 396.7 L185.7 400.0 L183.0 408.0 L176.3 417.3 L175.0 428.0 L165.7 426.7 L157.7 422.7 L145.7 424.7 L143.0 426.7 L135.0 432.0 L128.3 438.7 L121.7 446.7 L115.0 453.3 L107.0 458.7 L101.7 460.3 L96.3 460.7 L92.3 456.7 L84.3 454.7 L76.3 452.7 L71.0 449.3 L63.0 451.3 L56.3 453.3 L57.7 443.3 L57.0 434.0 L59.0 427.3 L67.0 422.0 L73.7 416.7 L72.3 410.0 L65.7 410.0 L63.7 404.7 L60.3 399.3 L53.7 396.7 L57.0 391.3 L61.0 386.0 L59.0 381.3 L54.3 378.7 L55.0 374.0 L57.7 368.0Z" fill="#189ac7" stroke="#c4ecfa" stroke-width="1.25"/>
<path d="M245.7 371.3 L253.7 372.0 L263.0 376.0 L266.3 380.0 L269.7 378.0 L272.3 380.7 L277.7 382.0 L292.3 384.0 L301.7 380.7 L311.0 382.0 L309.7 388.0 L308.3 396.0 L303.0 402.7 L295.0 409.3 L287.0 414.7 L283.0 420.0 L271.0 423.3 L260.3 427.3 L253.7 432.7 L249.7 438.0 L251.0 442.0 L246.3 446.0 L240.3 444.7 L235.7 440.7 L237.7 430.0 L239.0 422.7 L238.3 414.7 L240.3 406.7 L244.3 400.0 L246.3 390.7 L247.7 380.0 L245.7 371.3Z" fill="none" stroke="#9cc6e0" stroke-width="0.9"/>
<path d="M143.0 426.7 L135.0 432.0 L128.3 438.7 L121.7 446.7 L115.0 453.3 L107.0 458.7 L117.7 459.3 L129.7 460.7 L133.7 464.0 L131.0 469.3 L141.7 466.7 L149.7 464.0 L153.7 458.7 L152.3 450.7 L148.3 440.0 L144.3 434.7 L143.0 426.7Z" fill="none" stroke="#9cc6e0" stroke-width="0.9"/>
</g>
<g filter="url(#shs)" stroke-linejoin="round">
<path d="M295.0 476.0 L300.0 470.0 L308.0 463.0 L314.0 461.0 L316.0 466.0 L323.0 467.0 L324.0 473.0 L321.0 480.0 L316.0 485.0 L312.0 488.0 L308.0 483.0 L302.0 479.0 L297.0 479.0Z" fill="#ffffff" stroke="#8fb6cf" stroke-width="1.1"/>
<path d="M329.6 458.0 L335.0 455.0 L342.0 457.0 L345.0 461.0 L342.0 464.0 L337.0 461.0 L332.0 461.0Z" fill="#ffffff" stroke="#8fb6cf" stroke-width="1.1"/>
<path d="M269.0 494.0 L275.0 492.0 L277.0 497.0 L273.0 501.0 L268.0 503.0 L266.0 499.0Z" fill="#ffffff" stroke="#8fb6cf" stroke-width="1.1"/>
<path d="M270.0 506.0 L277.0 507.0 L276.0 509.0 L271.0 509.0Z" fill="#ffffff" stroke="#8fb6cf" stroke-width="1.1"/>
</g>
</g>
<g transform="translate(754.6,0)">
<path d="M296 666.5V597L409 578.5H442.5V666.5" fill="none" stroke="#a3bdcc" stroke-width="1.8"/>
<g filter="url(#shs)" stroke-linejoin="round">
<path d="M307.6 614.4 L310.2 610.7 L315.4 610.2 L316.4 614.9 L315.4 620.6 L313.3 624.2 L310.7 620.1Z" fill="#eaf5fb" stroke="#8db8d2" stroke-width="1.1"/>
<circle cx="329.4" cy="633" r="3.4" fill="#eaf5fb" stroke="#8db8d2" stroke-width="1.1"/>
<path d="M306.1 641.9 L309.7 640.3 L312.8 637.2 L314.4 639.8 L312.3 643.9 L309.7 646.5 L307.1 644.5Z" fill="#eaf5fb" stroke="#8db8d2" stroke-width="1.1"/>
<path d="M337.2 624.8 L342.9 622.2 L351.2 620.1 L354.8 617.0 L359.5 616.5 L361.0 618.5 L357.4 621.1 L354.3 622.2 L353.3 628.4 L350.1 632.5 L345.5 635.6 L342.4 634.6 L339.8 629.9Z" fill="#eaf5fb" stroke="#8db8d2" stroke-width="1.1"/>
<circle cx="376" cy="636.1" r="6.6" fill="#eaf5fb" stroke="#8db8d2" stroke-width="1.1"/>
<path d="M417.3 615.3 L419.8 618.7 L419.0 625.5 L415.6 631.5 L408.8 634.9 L401.9 639.1 L400.2 637.4 L406.2 633.2 L411.3 628.1 L413.0 619.6Z" fill="#eaf5fb" stroke="#8db8d2" stroke-width="1.1"/>
<path d="M424.1 590.6 L426.6 589.8 L428.3 594.0 L430.9 598.3 L430.0 603.4 L426.6 606.8 L421.5 609.4 L418.1 608.5 L419.0 605.1 L422.4 601.7 L424.9 596.6Z" fill="#eaf5fb" stroke="#8db8d2" stroke-width="1.1"/>
</g>
</g>
<circle cx="6.0" cy="266.8" r="4.6" fill="#3f88ad"/>
<text x="18.3" y="271.7" font-size="13.6" font-weight="bold" fill="#111" stroke="#111" stroke-width="0.35" stroke-linejoin="round" textLength="341.7" lengthAdjust="spacingAndGlyphs">TASA DE RIESGO DE POBREZA O EXCLUSIÓN*</text>
<text x="18.3" y="294.3" font-size="14.2" font-weight="normal" fill="#222" stroke="#222" stroke-width="0.25" stroke-linejoin="round" textLength="341.7" lengthAdjust="spacingAndGlyphs">(*) Es la población que está en riesgo de pobreza, en hogares</text>
<text x="18.3" y="311.7" font-size="14.2" font-weight="normal" fill="#222" stroke="#222" stroke-width="0.25" stroke-linejoin="round" textLength="351.0" lengthAdjust="spacingAndGlyphs">sin empleo o de baja intensidad y con carencia material severa</text>
<circle cx="469.3" cy="267.2" r="4.6" fill="#3f88ad"/>
<text x="482.0" y="271.9" font-size="13.6" font-weight="bold" fill="#111" stroke="#111" stroke-width="0.35" stroke-linejoin="round" textLength="77.0" lengthAdjust="spacingAndGlyphs">INGRESOS</text>
<text x="482.0" y="289.3" font-size="13.6" font-weight="bold" fill="#111" stroke="#111" stroke-width="0.35" stroke-linejoin="round" textLength="136.0" lengthAdjust="spacingAndGlyphs">MEDIOS ANUALES</text>
<circle cx="846.3" cy="267.2" r="4.6" fill="#3f88ad"/>
<text x="858.6" y="271.9" font-size="13.6" font-weight="bold" fill="#111" stroke="#111" stroke-width="0.35" stroke-linejoin="round" textLength="72.4" lengthAdjust="spacingAndGlyphs">HOGARES</text>
<text x="858.6" y="289.3" font-size="13.6" font-weight="bold" fill="#111" stroke="#111" stroke-width="0.35" stroke-linejoin="round" textLength="112.8" lengthAdjust="spacingAndGlyphs">EN PROPIEDAD</text>
<rect x="337.0" y="342.0" width="15.0" height="14.0" fill="#189ac7"/>
<text x="358.0" y="354.6" font-size="14.5" font-weight="normal" fill="#222" stroke="#222" stroke-width="0.35" stroke-linejoin="round" textLength="76.0" lengthAdjust="spacingAndGlyphs">40,0% a 50,0%</text>
<rect x="337.0" y="363.0" width="15.0" height="14.0" fill="#77b6dc"/>
<text x="358.0" y="375.3" font-size="14.5" font-weight="normal" fill="#222" stroke="#222" stroke-width="0.35" stroke-linejoin="round" textLength="76.0" lengthAdjust="spacingAndGlyphs">30,0% a 39,9%</text>
<rect x="337.0" y="383.5" width="15.0" height="14.0" fill="#cae1f0"/>
<text x="358.0" y="395.5" font-size="14.5" font-weight="normal" fill="#222" stroke="#222" stroke-width="0.35" stroke-linejoin="round" textLength="76.0" lengthAdjust="spacingAndGlyphs">20,0% a 29,9%</text>
<rect x="337.6" y="403.8" width="13.8" height="13.8" fill="#fff" stroke="#8fb3bf" stroke-width="1.2"/>
<text x="358.0" y="416.0" font-size="14.5" font-weight="normal" fill="#222" stroke="#222" stroke-width="0.35" stroke-linejoin="round" textLength="76.0" lengthAdjust="spacingAndGlyphs">10,0% a 19,9%</text>
<rect x="670.7" y="264.6" width="14.0" height="13.5" fill="#77b6dc"/>
<text x="691.3" y="276.7" font-size="14.5" font-weight="normal" fill="#222" stroke="#222" stroke-width="0.35" stroke-linejoin="round" textLength="106.7" lengthAdjust="spacingAndGlyphs">Entre 12.000 y 14.000</text>
<rect x="670.7" y="285.8" width="14.0" height="13.5" fill="#cae1f0"/>
<text x="691.3" y="297.2" font-size="14.5" font-weight="normal" fill="#222" stroke="#222" stroke-width="0.35" stroke-linejoin="round" textLength="106.7" lengthAdjust="spacingAndGlyphs">Entre 10.000 y 12.000</text>
<rect x="671.3" y="306.6" width="12.8" height="13.3" fill="#fff" stroke="#8fb3bf" stroke-width="1.2"/>
<text x="691.3" y="317.2" font-size="14.5" font-weight="normal" fill="#222" stroke="#222" stroke-width="0.35" stroke-linejoin="round" textLength="101.2" lengthAdjust="spacingAndGlyphs">Entre 7.000 y 10.000</text>
<rect x="1095.0" y="264.2" width="13.4" height="13.6" fill="#189ac7"/>
<text x="1115.2" y="277.0" font-size="14.5" font-weight="normal" fill="#222" stroke="#222" stroke-width="0.35" stroke-linejoin="round" textLength="75.2" lengthAdjust="spacingAndGlyphs">84,0% a 90,0%</text>
<rect x="1095.0" y="285.3" width="13.4" height="13.6" fill="#77b6dc"/>
<text x="1115.2" y="297.2" font-size="14.5" font-weight="normal" fill="#222" stroke="#222" stroke-width="0.35" stroke-linejoin="round" textLength="75.2" lengthAdjust="spacingAndGlyphs">80,0% a 83,9%</text>
<rect x="1095.0" y="305.8" width="13.4" height="13.6" fill="#cae1f0"/>
<text x="1115.2" y="317.6" font-size="14.5" font-weight="normal" fill="#222" stroke="#222" stroke-width="0.35" stroke-linejoin="round" textLength="75.2" lengthAdjust="spacingAndGlyphs">74,0% a 79,9%</text>
<rect x="1094.9" y="325.1" width="13.4" height="14.4" fill="#fff" stroke="#8fb3bf" stroke-width="1.2"/>
<text x="1115.2" y="338.2" font-size="14.5" font-weight="normal" fill="#222" stroke="#222" stroke-width="0.35" stroke-linejoin="round" textLength="75.2" lengthAdjust="spacingAndGlyphs">64,0% a 73,9%</text>
<text x="113.9" y="345.0" font-size="17.0" font-weight="bold" fill="#1a1a1a" stroke="#1a1a1a" stroke-width="0.60" stroke-linejoin="round" textLength="36.2" lengthAdjust="spacingAndGlyphs">20,4%</text>
<text x="63.9" y="360.6" font-size="17.0" font-weight="bold" fill="#1a1a1a" stroke="#1a1a1a" stroke-width="0.60" stroke-linejoin="round" textLength="36.8" lengthAdjust="spacingAndGlyphs">24,2%</text>
<text x="19.7" y="377.4" font-size="17.0" font-weight="bold" fill="#1a1a1a" stroke="#1a1a1a" stroke-width="0.60" stroke-linejoin="round" textLength="37.0" lengthAdjust="spacingAndGlyphs">25,7%</text>
<text x="154.3" y="362.0" font-size="17.0" font-weight="bold" fill="#1a1a1a" stroke="#1a1a1a" stroke-width="0.60" stroke-linejoin="round" textLength="35.4" lengthAdjust="spacingAndGlyphs">17,6%</text>
<text x="181.3" y="382.0" font-size="17.0" font-weight="bold" fill="#1a1a1a" stroke="#1a1a1a" stroke-width="0.60" stroke-linejoin="round" textLength="37.4" lengthAdjust="spacingAndGlyphs">13,0%</text>
<text x="144.3" y="401.4" font-size="17.0" font-weight="bold" fill="#1a1a1a" stroke="#1a1a1a" stroke-width="0.60" stroke-linejoin="round" textLength="36.4" lengthAdjust="spacingAndGlyphs">22,1%</text>
<text x="90.3" y="415.0" font-size="17.0" font-weight="bold" fill="#1a1a1a" stroke="#1a1a1a" stroke-width="0.60" stroke-linejoin="round" textLength="36.4" lengthAdjust="spacingAndGlyphs">23,3%</text>
<text x="193.3" y="419.0" font-size="17.0" font-weight="bold" fill="#1a1a1a" stroke="#1a1a1a" stroke-width="0.60" stroke-linejoin="round" textLength="36.4" lengthAdjust="spacingAndGlyphs">17,7%</text>
<text x="129.3" y="455.4" font-size="17.0" font-weight="bold" fill="#1a1a1a" stroke="#1a1a1a" stroke-width="0.60" stroke-linejoin="round" textLength="36.8" lengthAdjust="spacingAndGlyphs">20,5%</text>
<text x="255.3" y="408.0" font-size="17.0" font-weight="bold" fill="#1a1a1a" stroke="#1a1a1a" stroke-width="0.60" stroke-linejoin="round" textLength="36.4" lengthAdjust="spacingAndGlyphs">19,8%</text>
<text x="57.9" y="494.4" font-size="17.0" font-weight="bold" fill="#1a1a1a" stroke="#1a1a1a" stroke-width="0.60" stroke-linejoin="round" textLength="36.8" lengthAdjust="spacingAndGlyphs">35,2%</text>
<text x="134.7" y="490.0" font-size="17.0" font-weight="bold" fill="#1a1a1a" stroke="#1a1a1a" stroke-width="0.60" stroke-linejoin="round" textLength="36.6" lengthAdjust="spacingAndGlyphs">36,7%</text>
<text x="193.3" y="497.4" font-size="17.0" font-weight="bold" fill="#1a1a1a" stroke="#1a1a1a" stroke-width="0.60" stroke-linejoin="round" textLength="36.4" lengthAdjust="spacingAndGlyphs">32,9%</text>
<text x="181.3" y="541.6" font-size="17.0" font-weight="bold" fill="#1a1a1a" stroke="#1a1a1a" stroke-width="0.60" stroke-linejoin="round" textLength="36.4" lengthAdjust="spacingAndGlyphs">38,8%</text>
<text x="254.7" y="485.4" font-size="17.0" font-weight="bold" fill="#1a1a1a" stroke="#1a1a1a" stroke-width="0.60" stroke-linejoin="round" textLength="36.6" lengthAdjust="spacingAndGlyphs">26,7%</text>
<text x="95.9" y="553.0" font-size="17.0" font-weight="bold" fill="#0d4a63" stroke="#0d4a63" stroke-width="0.60" stroke-linejoin="round" textLength="36.4" lengthAdjust="spacingAndGlyphs">43,2%</text>
<text x="370.3" y="616.0" font-size="17.0" font-weight="bold" fill="#1a1a1a" stroke="#1a1a1a" stroke-width="0.60" stroke-linejoin="round" textLength="38.2" lengthAdjust="spacingAndGlyphs">37,9%</text>
<text x="487.3" y="371.0" font-size="17.0" font-weight="bold" fill="#1a1a1a" stroke="#1a1a1a" stroke-width="0.60" stroke-linejoin="round" textLength="37.4" lengthAdjust="spacingAndGlyphs">10.212</text>
<text x="537.3" y="359.0" font-size="17.0" font-weight="bold" fill="#1a1a1a" stroke="#1a1a1a" stroke-width="0.60" stroke-linejoin="round" textLength="38.0" lengthAdjust="spacingAndGlyphs">11.427</text>
<text x="583.3" y="364.0" font-size="17.0" font-weight="bold" fill="#1a1a1a" stroke="#1a1a1a" stroke-width="0.60" stroke-linejoin="round" textLength="37.4" lengthAdjust="spacingAndGlyphs">10.494</text>
<text x="632.7" y="361.4" font-size="17.0" font-weight="bold" fill="#1a1a1a" stroke="#1a1a1a" stroke-width="0.60" stroke-linejoin="round" textLength="38.0" lengthAdjust="spacingAndGlyphs">13.836</text>
<text x="654.3" y="380.0" font-size="17.0" font-weight="bold" fill="#1a1a1a" stroke="#1a1a1a" stroke-width="0.60" stroke-linejoin="round" textLength="37.4" lengthAdjust="spacingAndGlyphs">13.300</text>
<text x="619.7" y="400.0" font-size="17.0" font-weight="bold" fill="#1a1a1a" stroke="#1a1a1a" stroke-width="0.60" stroke-linejoin="round" textLength="39.0" lengthAdjust="spacingAndGlyphs">11.132</text>
<text x="557.7" y="410.4" font-size="17.0" font-weight="bold" fill="#1a1a1a" stroke="#1a1a1a" stroke-width="0.60" stroke-linejoin="round" textLength="38.0" lengthAdjust="spacingAndGlyphs">10.570</text>
<text x="590.3" y="452.0" font-size="17.0" font-weight="bold" fill="#1a1a1a" stroke="#1a1a1a" stroke-width="0.60" stroke-linejoin="round" textLength="37.8" lengthAdjust="spacingAndGlyphs">12.534</text>
<text x="669.3" y="422.4" font-size="17.0" font-weight="bold" fill="#1a1a1a" stroke="#1a1a1a" stroke-width="0.60" stroke-linejoin="round" textLength="37.4" lengthAdjust="spacingAndGlyphs">12.427</text>
<text x="728.3" y="407.0" font-size="17.0" font-weight="bold" fill="#1a1a1a" stroke="#1a1a1a" stroke-width="0.60" stroke-linejoin="round" textLength="37.4" lengthAdjust="spacingAndGlyphs">12.283</text>
<text x="533.3" y="494.0" font-size="17.0" font-weight="bold" fill="#1a1a1a" stroke="#1a1a1a" stroke-width="0.60" stroke-linejoin="round" textLength="32.4" lengthAdjust="spacingAndGlyphs">8.496</text>
<text x="609.7" y="492.6" font-size="17.0" font-weight="bold" fill="#1a1a1a" stroke="#1a1a1a" stroke-width="0.60" stroke-linejoin="round" textLength="32.0" lengthAdjust="spacingAndGlyphs">8.498</text>
<text x="678.3" y="497.0" font-size="17.0" font-weight="bold" fill="#1a1a1a" stroke="#1a1a1a" stroke-width="0.60" stroke-linejoin="round" textLength="31.9" lengthAdjust="spacingAndGlyphs">9.098</text>
<text x="653.3" y="542.0" font-size="17.0" font-weight="bold" fill="#1a1a1a" stroke="#1a1a1a" stroke-width="0.60" stroke-linejoin="round" textLength="31.4" lengthAdjust="spacingAndGlyphs">7.924</text>
<text x="575.3" y="553.0" font-size="17.0" font-weight="bold" fill="#1a1a1a" stroke="#1a1a1a" stroke-width="0.60" stroke-linejoin="round" textLength="32.0" lengthAdjust="spacingAndGlyphs">7.942</text>
<text x="765.3" y="508.0" font-size="17.0" font-weight="bold" fill="#1a1a1a" stroke="#1a1a1a" stroke-width="0.60" stroke-linejoin="round" textLength="37.9" lengthAdjust="spacingAndGlyphs">10.828</text>
<text x="749.3" y="619.2" font-size="15.6" font-weight="bold" fill="#1a1a1a" stroke="#1a1a1a" stroke-width="0.55" stroke-linejoin="round" textLength="31.7" lengthAdjust="spacingAndGlyphs">8.640</text>
<text x="960.3" y="345.0" font-size="17.0" font-weight="bold" fill="#1a1a1a" stroke="#1a1a1a" stroke-width="0.60" stroke-linejoin="round" textLength="36.4" lengthAdjust="spacingAndGlyphs">76,5%</text>
<text x="1015.3" y="350.0" font-size="17.0" font-weight="bold" fill="#1a1a1a" stroke="#1a1a1a" stroke-width="0.60" stroke-linejoin="round" textLength="36.8" lengthAdjust="spacingAndGlyphs">83,7%</text>
<text x="908.3" y="362.0" font-size="17.0" font-weight="bold" fill="#1a1a1a" stroke="#1a1a1a" stroke-width="0.60" stroke-linejoin="round" textLength="36.4" lengthAdjust="spacingAndGlyphs">82,6%</text>
<text x="861.7" y="369.4" font-size="17.0" font-weight="bold" fill="#1a1a1a" stroke="#1a1a1a" stroke-width="0.60" stroke-linejoin="round" textLength="37.0" lengthAdjust="spacingAndGlyphs">80,4%</text>
<text x="1029.3" y="380.6" font-size="17.0" font-weight="bold" fill="#1a1a1a" stroke="#1a1a1a" stroke-width="0.60" stroke-linejoin="round" textLength="36.4" lengthAdjust="spacingAndGlyphs">83,7%</text>
<text x="1001.9" y="397.6" font-size="17.0" font-weight="bold" fill="#1a1a1a" stroke="#1a1a1a" stroke-width="0.60" stroke-linejoin="round" textLength="36.8" lengthAdjust="spacingAndGlyphs">83,7%</text>
<text x="1045.6" y="422.7" font-size="17.0" font-weight="bold" fill="#1a1a1a" stroke="#1a1a1a" stroke-width="0.60" stroke-linejoin="round" textLength="35.4" lengthAdjust="spacingAndGlyphs">79,9%</text>
<text x="978.9" y="455.0" font-size="17.0" font-weight="bold" fill="#1a1a1a" stroke="#1a1a1a" stroke-width="0.60" stroke-linejoin="round" textLength="36.4" lengthAdjust="spacingAndGlyphs">72,6%</text>
<text x="1103.6" y="408.0" font-size="17.0" font-weight="bold" fill="#1a1a1a" stroke="#1a1a1a" stroke-width="0.60" stroke-linejoin="round" textLength="36.1" lengthAdjust="spacingAndGlyphs">73,8%</text>
<text x="906.3" y="494.7" font-size="17.0" font-weight="bold" fill="#1a1a1a" stroke="#1a1a1a" stroke-width="0.60" stroke-linejoin="round" textLength="36.7" lengthAdjust="spacingAndGlyphs">78,0%</text>
<text x="982.3" y="490.7" font-size="17.0" font-weight="bold" fill="#1a1a1a" stroke="#1a1a1a" stroke-width="0.60" stroke-linejoin="round" textLength="37.4" lengthAdjust="spacingAndGlyphs">81,0%</text>
<text x="1051.0" y="490.7" font-size="17.0" font-weight="bold" fill="#1a1a1a" stroke="#1a1a1a" stroke-width="0.60" stroke-linejoin="round" textLength="36.0" lengthAdjust="spacingAndGlyphs">76,6%</text>
<text x="1103.0" y="485.3" font-size="17.0" font-weight="bold" fill="#1a1a1a" stroke="#1a1a1a" stroke-width="0.60" stroke-linejoin="round" textLength="37.0" lengthAdjust="spacingAndGlyphs">64,4%</text>
<text x="1029.6" y="538.4" font-size="17.0" font-weight="bold" fill="#1a1a1a" stroke="#1a1a1a" stroke-width="0.60" stroke-linejoin="round" textLength="36.8" lengthAdjust="spacingAndGlyphs">77,8%</text>
<text x="943.6" y="553.3" font-size="17.0" font-weight="bold" fill="#1a1a1a" stroke="#1a1a1a" stroke-width="0.60" stroke-linejoin="round" textLength="36.8" lengthAdjust="spacingAndGlyphs">79,6%</text>
<text x="939.3" y="416.0" font-size="17.0" font-weight="bold" fill="#cdeaf8" stroke="#cdeaf8" stroke-width="0.60" stroke-linejoin="round" textLength="37.4" lengthAdjust="spacingAndGlyphs">84,0%</text>
<text x="1125.0" y="620.0" font-size="15.6" font-weight="bold" fill="#1a1a1a" stroke="#1a1a1a" stroke-width="0.55" stroke-linejoin="round" textLength="36.7" lengthAdjust="spacingAndGlyphs">73,5%</text>
<rect x="337.6" y="536.0" width="14.0" height="13.5" fill="#189ac7"/>
<rect x="337.6" y="557.0" width="14.0" height="13.5" fill="#77b6dc"/>
<text x="357.0" y="547.0" font-size="14.6" font-weight="normal" fill="#222" stroke="#222" stroke-width="0.45" stroke-linejoin="round" textLength="32.0" lengthAdjust="spacingAndGlyphs">Ceuta</text>
<text x="406.3" y="547.3" font-size="17.0" font-weight="bold" fill="#1a1a1a" stroke="#1a1a1a" stroke-width="0.60" stroke-linejoin="round" textLength="37.0" lengthAdjust="spacingAndGlyphs">41,7%</text>
<text x="357.0" y="568.0" font-size="14.6" font-weight="normal" fill="#222" stroke="#222" stroke-width="0.45" stroke-linejoin="round" textLength="39.0" lengthAdjust="spacingAndGlyphs">Melilla</text>
<text x="406.3" y="568.3" font-size="17.0" font-weight="bold" fill="#1a1a1a" stroke="#1a1a1a" stroke-width="0.60" stroke-linejoin="round" textLength="37.0" lengthAdjust="spacingAndGlyphs">31,8%</text>
<rect x="1092.3" y="536.4" width="13.1" height="12.4" fill="#fff" stroke="#8fb3bf" stroke-width="1.2"/>
<rect x="1092.3" y="557.4" width="13.1" height="12.4" fill="#fff" stroke="#8fb3bf" stroke-width="1.2"/>
<text x="1111.4" y="547.3" font-size="14.6" font-weight="normal" fill="#222" stroke="#222" stroke-width="0.45" stroke-linejoin="round" textLength="30.9" lengthAdjust="spacingAndGlyphs">Ceuta</text>
<text x="1160.8" y="547.5" font-size="17.0" font-weight="bold" fill="#1a1a1a" stroke="#1a1a1a" stroke-width="0.60" stroke-linejoin="round" textLength="36.4" lengthAdjust="spacingAndGlyphs">70,4%</text>
<text x="1111.4" y="568.5" font-size="14.6" font-weight="normal" fill="#222" stroke="#222" stroke-width="0.45" stroke-linejoin="round" textLength="37.6" lengthAdjust="spacingAndGlyphs">Melilla</text>
<text x="1160.8" y="568.7" font-size="17.0" font-weight="bold" fill="#1a1a1a" stroke="#1a1a1a" stroke-width="0.60" stroke-linejoin="round" textLength="36.4" lengthAdjust="spacingAndGlyphs">69,4%</text>
<rect x="58.7" y="626.2" width="15" height="15" fill="#c9e1ef" stroke="#2a2a2a" stroke-width="1.4"/>
<text x="82.8" y="638.3" font-size="17.3" font-weight="bold" fill="#1a1a1a" stroke="#1a1a1a" stroke-width="0.50" stroke-linejoin="round" textLength="47.3" lengthAdjust="spacingAndGlyphs">Media</text>
<text x="82.8" y="657.1" font-size="17.3" font-weight="bold" fill="#1a1a1a" stroke="#1a1a1a" stroke-width="0.50" stroke-linejoin="round" textLength="53.3" lengthAdjust="spacingAndGlyphs">España</text>
<text x="148.5" y="655.9" font-size="43.2" font-weight="bold" fill="#c63531" stroke="#c63531" stroke-width="1.70" stroke-linejoin="round" textLength="100.2" lengthAdjust="spacingAndGlyphs">28,6%</text>
<rect x="470.9" y="626.1" width="15" height="15" fill="#c9e1ef" stroke="#2a2a2a" stroke-width="1.4"/>
<text x="494.9" y="638.2" font-size="17.3" font-weight="bold" fill="#1a1a1a" stroke="#1a1a1a" stroke-width="0.50" stroke-linejoin="round" textLength="47.3" lengthAdjust="spacingAndGlyphs">Media</text>
<text x="494.9" y="657.0" font-size="17.3" font-weight="bold" fill="#1a1a1a" stroke="#1a1a1a" stroke-width="0.50" stroke-linejoin="round" textLength="53.3" lengthAdjust="spacingAndGlyphs">España</text>
<text x="554.7" y="655.7" font-size="43.2" font-weight="bold" fill="#c63531" stroke="#c63531" stroke-width="1.70" stroke-linejoin="round" textLength="104.5" lengthAdjust="spacingAndGlyphs">10.419</text>
<rect x="854.9" y="626.7" width="15" height="15" fill="#c9e1ef" stroke="#2a2a2a" stroke-width="1.4"/>
<text x="877.3" y="638.8" font-size="17.3" font-weight="bold" fill="#1a1a1a" stroke="#1a1a1a" stroke-width="0.50" stroke-linejoin="round" textLength="47.3" lengthAdjust="spacingAndGlyphs">Media</text>
<text x="877.3" y="657.6" font-size="17.3" font-weight="bold" fill="#1a1a1a" stroke="#1a1a1a" stroke-width="0.50" stroke-linejoin="round" textLength="53.3" lengthAdjust="spacingAndGlyphs">España</text>
<text x="942.7" y="655.5" font-size="43.2" font-weight="bold" fill="#c63531" stroke="#c63531" stroke-width="1.70" stroke-linejoin="round" textLength="101.5" lengthAdjust="spacingAndGlyphs">77,3%</text>
</svg></body></html>
